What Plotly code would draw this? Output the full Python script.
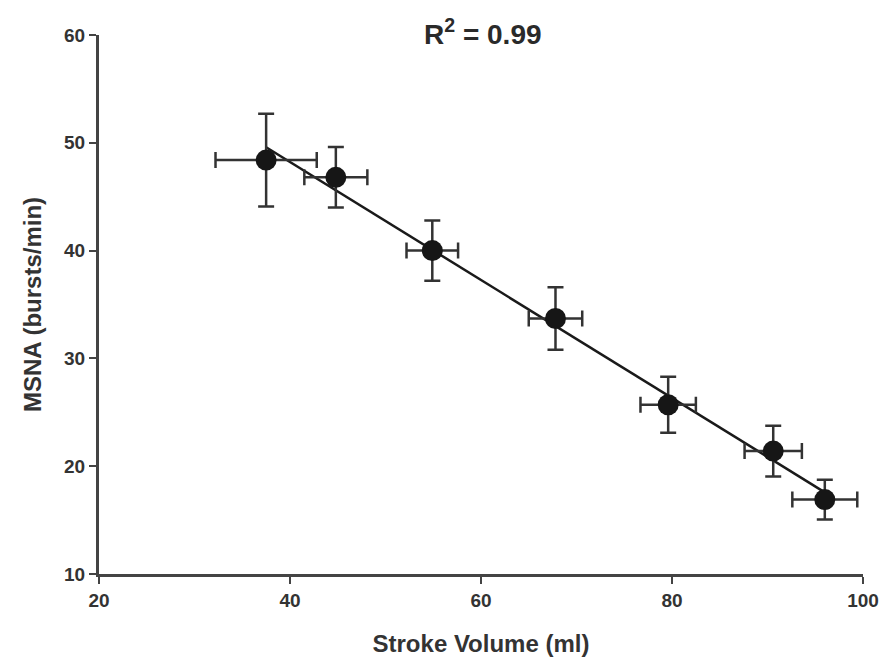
import numpy as np
import plotly.graph_objects as go

# Data
stroke_volume = [37.5, 44.8, 54.9, 67.8, 79.6, 90.6, 96.0]
sv_err = [5.3, 3.3, 2.7, 2.8, 2.9, 3.0, 3.4]
msna = [48.4, 46.8, 40.0, 33.7, 25.7, 21.4, 16.9]
msna_err = [4.3, 2.8, 2.8, 2.9, 2.6, 2.35, 1.85]
x_ticks = [20, 40, 60, 80, 100]
y_ticks = [10, 20, 30, 40, 50, 60]
r2_label = "<b>R<sup>2</sup> = 0.99</b>"

slope, intercept = np.polyfit(stroke_volume, msna, 1)
fit_x = [min(stroke_volume), max(stroke_volume)]
fit_y = [slope * v + intercept for v in fit_x]

FONT = "Liberation Sans, Arial, sans-serif"
TXT = "#333333"

fig = go.Figure()
fig.add_trace(go.Scatter(
    x=fit_x, y=fit_y, mode="lines",
    line=dict(color="#1a1a1a", width=2.5),
    hoverinfo="skip", showlegend=False,
))
fig.add_trace(go.Scatter(
    x=stroke_volume, y=msna, mode="markers",
    marker=dict(size=21, color="#161616"),
    error_x=dict(type="data", array=sv_err, color="#333333", thickness=2.5, width=8),
    error_y=dict(type="data", array=msna_err, color="#333333", thickness=2.5, width=8),
    showlegend=False,
))

fig.update_layout(
    width=891, height=666,
    margin=dict(l=99, r=19, t=35, b=89),
    plot_bgcolor="white", paper_bgcolor="white",
    font=dict(family=FONT, color=TXT),
    xaxis=dict(
        range=[20, 100], tickvals=x_ticks, showgrid=False, zeroline=False,
        showline=True, linecolor="#444444", linewidth=3,
        ticks="outside", ticklen=7, tickwidth=2, tickcolor="#444444",
        tickfont=dict(size=19, family=FONT, color=TXT, weight="bold"),
        title=dict(text="Stroke Volume (ml)", font=dict(size=24, family=FONT, color=TXT, weight="bold"), standoff=26),
    ),
    yaxis=dict(
        range=[10, 60], tickvals=y_ticks, showgrid=False, zeroline=False,
        showline=True, linecolor="#444444", linewidth=3,
        ticks="outside", ticklen=7, tickwidth=2, tickcolor="#444444",
        tickfont=dict(size=19, family=FONT, color=TXT, weight="bold"),
        title=dict(text="MSNA (bursts/min)", font=dict(size=24, family=FONT, color=TXT, weight="bold"), standoff=16),
    ),
    annotations=[dict(
        text=r2_label, xref="paper", yref="paper", x=0.502, y=1.0055,
        xanchor="center", yanchor="middle", showarrow=False,
        font=dict(size=28, family=FONT, color="#2a2a2a"),
    )],
)

fig.write_html("out.html")
